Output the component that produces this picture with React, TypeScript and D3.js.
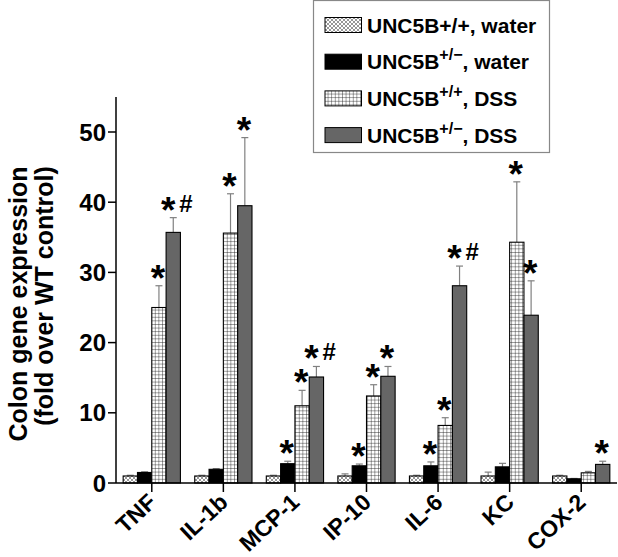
import React from "react";
import * as d3 from "d3";

const genes = ["TNF", "IL-1b", "MCP-1", "IP-10", "IL-6", "KC", "COX-2"];
const wtWater = [1.0, 1.0, 1.0, 1.0, 1.0, 1.0, 1.0];
const wtWaterErr = [1.1, 1.1, 1.1, 1.3, 1.1, 1.55, 1.1];
const hetWater = [1.5, 1.95, 2.75, 2.45, 2.45, 2.3, 0.6];
const hetWaterErr = [1.6, 2.05, 3.1, 2.7, 3.0, 2.8, 0.65];
const wtDss = [25.0, 35.6, 11.0, 12.4, 8.2, 34.3, 1.45];
const wtDssErr = [28.1, 41.2, 13.2, 14.0, 9.3, 42.9, 1.65];
const hetDss = [35.7, 39.5, 15.1, 15.2, 28.1, 23.9, 2.65];
const hetDssErr = [37.8, 49.2, 16.6, 16.6, 30.9, 28.8, 3.1];
const wtWaterMark = ["", "", "", "", "", "", ""];
const hetWaterMark = ["", "", "*", "*", "*", "", ""];
const wtDssMark = ["*", "*", "*", "*", "*", "*", ""];
const hetDssMark = ["*#", "*", "*#", "*", "*#", "*", "*"];
const yTicks = [0, 10, 20, 30, 40, 50];

const seriesKeys = ["wtWater", "hetWater", "wtDss", "hetDss"];
const seriesFills = ["url(#xhatch)", "#000000", "url(#grid)", "#666666"];

const FONT = "'Liberation Sans', Arial, Helvetica, sans-serif";

export default function App() {
  const W = 618, H = 557;
  const x0 = 116, x1 = 617, y0 = 483;
  const y = d3.scaleLinear().domain([0, 55]).range([y0, y0 - 55 * 7.02]);
  const x = d3.scaleBand().domain(genes).range([x0, x1]).paddingInner(0).paddingOuter(0);
  const inner = d3.scaleBand().domain(seriesKeys).range([0.1 * x.bandwidth(), 0.9 * x.bandwidth()]).padding(0);

  const vals = [wtWater, hetWater, wtDss, hetDss];
  const errs = [wtWaterErr, hetWaterErr, wtDssErr, hetDssErr];
  const marks = [wtWaterMark, hetWaterMark, wtDssMark, hetDssMark];

  const legendRows = [
    { main: "UNC5B+/+, water", sup: "", tail: "" },
    { main: "UNC5B", sup: "+/\u2212", tail: ", water" },
    { main: "UNC5B", sup: "+/+", tail: ", DSS" },
    { main: "UNC5B", sup: "+/\u2212", tail: ", DSS" },
  ];

  return (
    <svg width={W} height={H} style={{ position: "absolute", left: 0, top: 0, background: "#fff" }} fontFamily={FONT}>
      <defs>
        <pattern id="xhatch" patternUnits="userSpaceOnUse" width="4" height="4">
          <rect width="4" height="4" fill="#fff" />
          <path d="M0,0 L4,4 M4,0 L0,4" stroke="#6a6a6a" strokeWidth="0.7" />
        </pattern>
        <pattern id="grid" patternUnits="userSpaceOnUse" width="3.6" height="3.6">
          <rect width="3.6" height="3.6" fill="#fff" />
          <path d="M0,0 L3.6,0 M0,0 L0,3.6" stroke="#111" strokeWidth="0.8" />
        </pattern>
      </defs>

      {/* bars */}
      {genes.map((g, gi) => (
        <g key={g}>
          {seriesKeys.map((s, si) => {
            const bx = (x(g) as number) + (inner(s) as number);
            const bw = inner.bandwidth();
            const v = vals[si][gi];
            const e = errs[si][gi];
            const cx = bx + bw / 2;
            return (
              <g key={s}>
                <line x1={cx} x2={cx} y1={y(v)} y2={y(e)} stroke="#808080" strokeWidth={1.2} />
                <line x1={cx - 3.5} x2={cx + 3.5} y1={y(e)} y2={y(e)} stroke="#808080" strokeWidth={1.2} />
                <rect x={bx} y={y(v)} width={bw} height={y0 - y(v)} fill={seriesFills[si]} stroke="#000" strokeWidth={1.1} />
              </g>
            );
          })}
        </g>
      ))}

      {/* significance marks */}
      {genes.map((g, gi) => (
        <g key={"m" + g}>
          {seriesKeys.map((s, si) => {
            const m = marks[si][gi];
            if (!m) return null;
            const cx = (x(g) as number) + (inner(s) as number) + inner.bandwidth() / 2;
            const ey = y(errs[si][gi]);
            if (m === "*#") {
              return (
                <text key={s} x={cx - 12.2} y={ey + 5} fontWeight="bold" textAnchor="start">
                  <tspan fontSize={37}>*</tspan>
                  <tspan fontSize={24} dx={3.8} dy={-11}>#</tspan>
                </text>
              );
            }
            return (
              <text key={s} x={cx - 1} y={ey + 5} fontSize={37} fontWeight="bold" textAnchor="middle">*</text>
            );
          })}
        </g>
      ))}

      {/* axes */}
      <line x1={x0} x2={x0} y1={y0} y2={y(55)} stroke="#000" strokeWidth={1.5} />
      <line x1={x0} x2={x1} y1={y0} y2={y0} stroke="#000" strokeWidth={1.5} />
      {yTicks.map((t) => (
        <g key={t}>
          <line x1={x0 - 8} x2={x0} y1={y(t)} y2={y(t)} stroke="#000" strokeWidth={1.5} />
          <text x={x0 - 10} y={y(t) + 8.5} fontSize={24} fontWeight="bold" textAnchor="end">{t}</text>
        </g>
      ))}
      {genes.map((g) => {
        const cx = (x(g) as number) + x.bandwidth() / 2;
        return (
          <g key={"t" + g}>
            <line x1={cx} x2={cx} y1={y0} y2={y0 + 9} stroke="#000" strokeWidth={1.5} />
            <text
              transform={`translate(${cx + 6},${y0 + 21}) rotate(-43)`}
              fontSize={23}
              fontWeight="bold"
              textAnchor="end"
            >
              {g}
            </text>
          </g>
        );
      })}

      {/* y-axis title */}
      <text transform={`translate(27,304) rotate(-90)`} fontSize={25} fontWeight="bold" textAnchor="middle">
        Colon gene expression
      </text>
      <text transform={`translate(53,296) rotate(-90)`} fontSize={25} fontWeight="bold" textAnchor="middle">
        (fold over WT control)
      </text>

      {/* legend */}
      <rect x={313.5} y={0.5} width={236} height={152} fill="#fff" stroke="#888" strokeWidth={1.2} />
      {legendRows.map((r, i) => {
        const cy = 25 + i * 36.7;
        return (
          <g key={i}>
            <rect x={325} y={cy - 7.5} width={36.5} height={15} fill={seriesFills[i]} stroke="#000" strokeWidth={1} />
            <text x={367} y={cy + 7.5} fontSize={21} fontWeight="bold">
              {r.main}
              {r.sup ? (
                <tspan fontSize={16} dy={-9}>{r.sup}</tspan>
              ) : null}
              {r.tail ? <tspan dy={r.sup ? 9 : 0}>{r.tail}</tspan> : null}
            </text>
          </g>
        );
      })}
    </svg>
  );
}
